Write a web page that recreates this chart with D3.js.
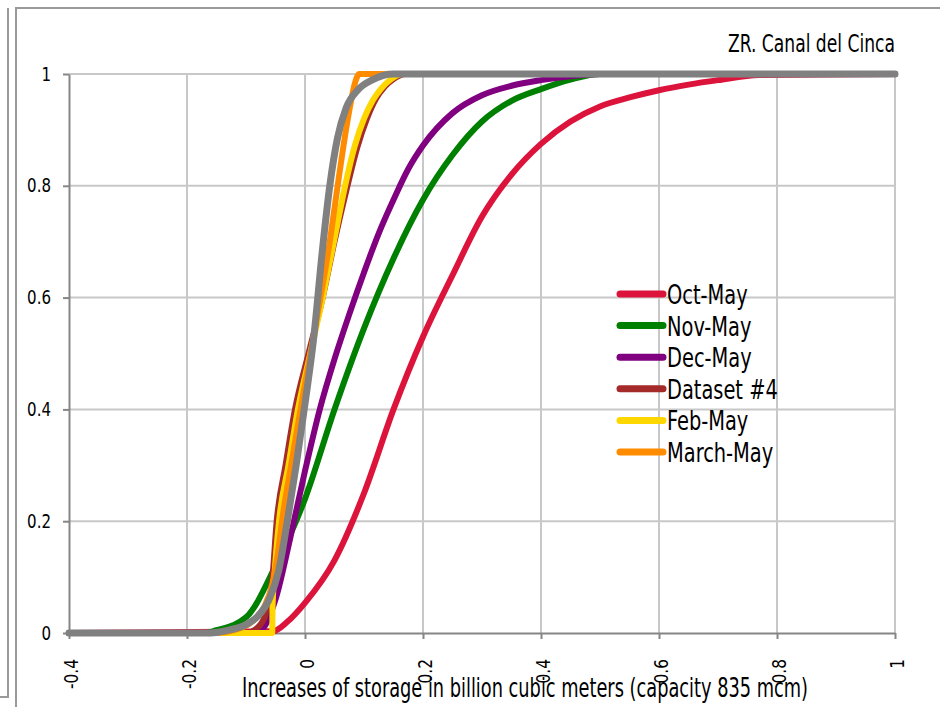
<!DOCTYPE html>
<meta charset="utf-8" />
<style>
  body { margin: 0; background: #fff; }
  svg text {
    font-family: "Liberation Sans Narrow", "Arial Narrow", "DejaVu Sans Condensed", sans-serif;
    fill: #000;
  }
</style>

<script src="https://d3js.org/d3.v7.min.js"></script>

<svg id="chart" width="940" height="707"></svg>

<script>
  // Cumulative distributions (x = storage increase, y = probability)
  const octX = [-0.4, -0.055, -0.03, 0, 0.05, 0.1, 0.15, 0.2, 0.25, 0.3, 0.35, 0.4, 0.45, 0.5, 0.55, 0.6, 0.65, 0.7, 0.77, 1];
  const octY = [0, 0.003, 0.02, 0.054, 0.13, 0.25, 0.4, 0.53, 0.64, 0.745, 0.82, 0.875, 0.915, 0.942, 0.958, 0.971, 0.981, 0.989, 0.998, 1];

  const novX = [-0.4, -0.17, -0.15, -0.1, -0.05, 0, 0.05, 0.1, 0.15, 0.2, 0.25, 0.3, 0.35, 0.4, 0.45, 0.5, 1];
  const novY = [0, 0, 0.005, 0.028, 0.12, 0.24, 0.4, 0.545, 0.67, 0.775, 0.855, 0.915, 0.952, 0.973, 0.99, 1, 1];

  const decX = [-0.4, -0.09, -0.07, -0.05, -0.025, 0, 0.025, 0.05, 0.075, 0.1, 0.125, 0.15, 0.175, 0.2, 0.25, 0.3, 0.35, 0.4, 0.45, 0.5, 1];
  const decY = [0, 0, 0.01, 0.06, 0.17, 0.29, 0.4, 0.49, 0.57, 0.645, 0.715, 0.775, 0.83, 0.872, 0.93, 0.962, 0.979, 0.989, 0.996, 1, 1];

  const ds4X = [-0.4, -0.1, -0.08, -0.065, -0.056, -0.048, -0.033, -0.017, 0.006, 0.03, 0.05, 0.072, 0.089, 0.105, 0.12, 0.135, 0.15, 0.17, 1];
  const ds4Y = [0, 0, 0.01, 0.04, 0.089, 0.2, 0.3, 0.4, 0.5, 0.6, 0.7, 0.8, 0.87, 0.92, 0.955, 0.977, 0.991, 1, 1];

  const febX = [-0.4, -0.0555, -0.055, -0.052, -0.044, -0.028, -0.012, 0.009, 0.03, 0.049, 0.068, 0.084, 0.1, 0.115, 0.13, 0.145, 0.166, 1];
  const febY = [0, 0, 0.047, 0.1, 0.2, 0.3, 0.4, 0.5, 0.6, 0.7, 0.8, 0.87, 0.92, 0.953, 0.975, 0.99, 1, 1];

  const marX = [-0.4, -0.15, -0.12, -0.09, -0.07, -0.055, -0.047, -0.039, -0.022, -0.006, 0.011, 0.028, 0.042, 0.054, 0.065, 0.076, 0.085, 0.092, 1];
  const marY = [0, 0, 0.005, 0.02, 0.045, 0.089, 0.135, 0.2, 0.31, 0.41, 0.51, 0.61, 0.7, 0.79, 0.87, 0.94, 0.985, 1, 1];

  const grayX = [-0.4, -0.16, -0.13, -0.1, -0.08, -0.06, -0.045, -0.03, -0.015, 0, 0.015, 0.03, 0.042, 0.055, 0.07, 0.09, 0.115, 0.15, 1];
  const grayY = [0, 0, 0.005, 0.015, 0.03, 0.062, 0.11, 0.2, 0.3, 0.41, 0.53, 0.69, 0.8, 0.885, 0.94, 0.972, 0.99, 1, 1];

  const seriesNames = ['Oct-May', 'Nov-May', 'Dec-May', 'Dataset #4', 'Feb-May', 'March-May', ''];
  const seriesColors = ['#dc143c', '#008000', '#800080', '#a52a2a', '#ffd700', '#ff8c00', '#808080'];
  const seriesXs = [octX, novX, decX, ds4X, febX, marX, grayX];
  const seriesYs = [octY, novY, decY, ds4Y, febY, marY, grayY];

  const xTicks = [-0.4, -0.2, 0, 0.2, 0.4, 0.6, 0.8, 1];
  const yTicks = [0, 0.2, 0.4, 0.6, 0.8, 1];

  const chartTitle = 'ZR. Canal del Cinca';
  const xTitle = 'Increases of storage in billion cubic meters (capacity 835 mcm)';

  const svg = d3.select('#chart');

  const x = d3.scaleLinear().domain([-0.4, 1]).range([69, 895]);
  const y = d3.scaleLinear().domain([0, 1]).range([633, 74]);

  // frame lines of the chart boxes
  const frame = svg.append('g').attr('stroke', '#9a9a9a').attr('stroke-width', 2).attr('fill', 'none');
  frame.append('path').attr('d', 'M8,8 V697 H0');
  frame.append('path').attr('d', 'M16,707 V8 H940');

  // grid
  svg.append('g')
    .selectAll('line')
    .data(xTicks.slice(1))
    .enter()
    .append('line')
    .attr('x1', d => x(d)).attr('x2', d => x(d))
    .attr('y1', y(0)).attr('y2', y(1))
    .attr('stroke', '#c8c8c8').attr('stroke-width', 2);

  svg.append('g')
    .selectAll('line')
    .data(yTicks.slice(1))
    .enter()
    .append('line')
    .attr('x1', x(-0.4)).attr('x2', x(1))
    .attr('y1', d => y(d)).attr('y2', d => y(d))
    .attr('stroke', '#c8c8c8').attr('stroke-width', 2);

  // axes
  const fmt = d => String(d);

  const xAxis = svg.append('g')
    .attr('transform', 'translate(0,' + y(0) + ')')
    .call(d3.axisBottom(x).tickValues(xTicks).tickFormat(fmt).tickSize(6).tickSizeOuter(0));
  xAxis.select('.domain').attr('stroke', '#868686').attr('stroke-width', 2);
  xAxis.selectAll('.tick line').attr('stroke', '#868686').attr('stroke-width', 2);
  xAxis.selectAll('.tick text')
    .attr('font-size', 19)
    .attr('font-family', null)
    .attr('text-anchor', 'end')
    .attr('x', 0).attr('y', 0)
    .attr('dy', '0.35em')
    .attr('transform', 'translate(2,26) rotate(-90) scale(0.9,1)');

  const yAxis = svg.append('g')
    .attr('transform', 'translate(' + x(-0.4) + ',0)')
    .call(d3.axisLeft(y).tickValues(yTicks).tickFormat(fmt).tickSize(6).tickSizeOuter(0));
  yAxis.select('.domain').attr('stroke', '#868686').attr('stroke-width', 2);
  yAxis.selectAll('.tick line').attr('stroke', '#868686').attr('stroke-width', 2);
  yAxis.selectAll('.tick text')
    .attr('font-size', 19)
    .attr('font-family', null)
    .attr('x', 0)
    .attr('transform', 'translate(-18,0) scale(0.88,1)');

  // series
  const line = d3.line()
    .x(d => x(d[0]))
    .y(d => y(d[1]))
    .curve(d3.curveMonotoneX);

  seriesXs.forEach(function (xs, i) {
    const pts = xs.map((v, j) => [v, seriesYs[i][j]]);
    svg.append('path')
      .datum(pts)
      .attr('d', line)
      .attr('fill', 'none')
      .attr('stroke', seriesColors[i])
      .attr('stroke-width', i === 6 ? 7 : 6)
      .attr('stroke-linejoin', 'round')
      .attr('stroke-linecap', 'round');
  });

  // legend (the gray series has no entry)
  const legend = svg.append('g').attr('transform', 'translate(620,304)');
  seriesNames.slice(0, 6).forEach(function (name, i) {
    const row = legend.append('g').attr('transform', 'translate(0,' + i * 31.6 + ')');
    row.append('line')
      .attr('x1', 0).attr('x2', 43)
      .attr('y1', -10).attr('y2', -10)
      .attr('stroke', seriesColors[i])
      .attr('stroke-width', 7)
      .attr('stroke-linecap', 'round');
    row.append('text')
      .attr('transform', 'translate(47,0) scale(0.83,1)')
      .attr('font-size', 26)
      .text(name);
  });

  // titles
  svg.append('text')
    .attr('x', 895).attr('y', 52)
    .attr('text-anchor', 'end')
    .attr('font-size', 24)
    .attr('textLength', 167)
    .attr('lengthAdjust', 'spacingAndGlyphs')
    .text(chartTitle);

  svg.append('text')
    .attr('x', 242).attr('y', 697)
    .attr('font-size', 26)
    .attr('textLength', 566)
    .attr('lengthAdjust', 'spacingAndGlyphs')
    .text(xTitle);
</script>
